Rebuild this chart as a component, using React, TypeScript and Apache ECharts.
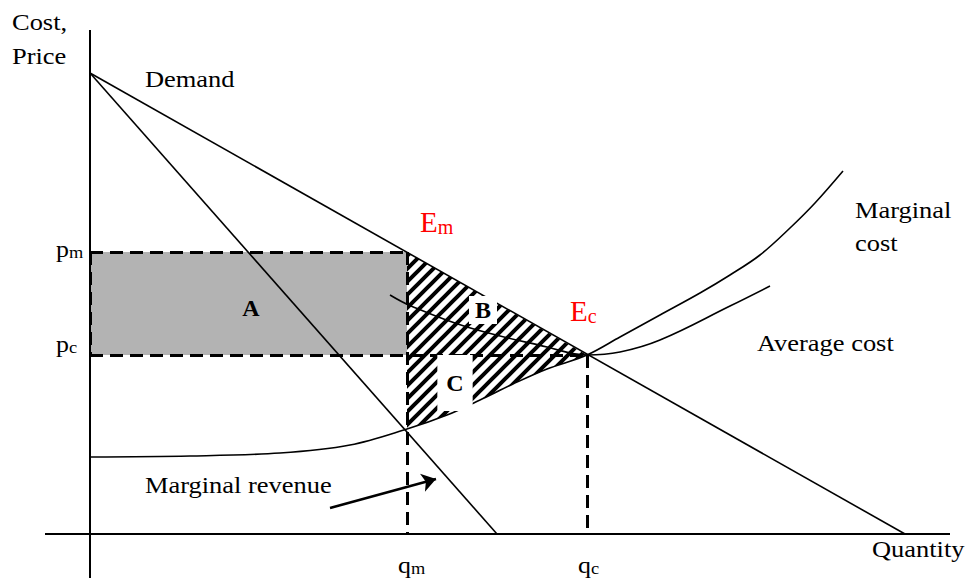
import React, { useEffect, useRef } from 'react';
import * as echarts from 'echarts';

// ---- Data (origin = where the two axes cross) ----
const demandX = [0, 815];
const demandY = [461, 0];
const mrX = [0, 407];
const mrY = [461, 0];
const mcX = [0, 100, 190, 260, 317, 357, 390, 423, 457, 497, 530, 570, 610, 640, 670, 700, 725, 753];
const mcY = [77, 78, 81, 89, 105, 119, 134, 150, 165, 179, 197, 219, 241, 259, 279, 306, 331, 363];
const acX = [300, 321, 377, 457, 497, 530, 570, 640, 680];
const acY = [239, 228, 207, 187, 179, 182, 194, 228, 248];
const pm = 282;
const pc = 179;
const qm = 317;
const qc = 497;
const xAxisSpan = [-45, 860];
const yAxisSpan = [-44, 504];
const arrowFrom = [240, 26];
const arrowTo = [346, 55];

// ---- Annotation texts ----
const labelTexts = [
  'Cost,\nPrice', 'Demand', 'Marginal\ncost', 'Average cost', 'Quantity', 'Marginal revenue',
  '{a|p}{b|m}', '{a|p}{b|c}', '{a|q}{b|m}', '{a|q}{b|c}', '{a|E}{b|m}', '{a|E}{b|c}', 'A', 'B', 'C',
];
const labelKinds = ['reg', 'reg', 'reg', 'reg', 'reg', 'reg', 'sub', 'sub', 'sub', 'sub', 'eq', 'eq', 'bold', 'boxB', 'boxC'];
// layout positions of the annotations (axis units)
const labelPos: number[][] = [
  [-78, 494.75], [55, 455], [765, 307.5], [667, 191], [782, -15], [55, 49],
  [-34, 285], [-34, 190], [308, -31], [488, -31], [330, 312], [480, 223],
  [161, 226], [393, 224], [365, 151],
];

const SERIF = "'Liberation Serif', 'Times New Roman', serif";

export default function App() {
  const ref = useRef<HTMLDivElement>(null);
  useEffect(() => {
    document.body.style.margin = '0';
    if (!ref.current) return;
    const chart = echarts.init(ref.current, undefined, { renderer: 'svg' });

    const s = 13;
    const hatch = document.createElement('canvas');
    hatch.width = s;
    hatch.height = s;
    const ctx = hatch.getContext('2d')!;
    ctx.fillStyle = '#ffffff';
    ctx.fillRect(0, 0, s, s);
    ctx.strokeStyle = '#000000';
    ctx.lineWidth = 4;
    ctx.beginPath();
    ctx.moveTo(0, s); ctx.lineTo(s, 0);
    ctx.moveTo(-s / 2, s / 2); ctx.lineTo(s / 2, -s / 2);
    ctx.moveTo(s / 2, s * 1.5); ctx.lineTo(s * 1.5, s / 2);
    ctx.stroke();

    const line = (name: string, xs: number[], ys: number[], smooth: number | boolean, width: number, z = 4) => ({
      type: 'line', name, data: xs.map((x, i) => [x, ys[i]]), smooth, symbol: 'none', silent: true, clip: false,
      lineStyle: { color: '#000', width }, z,
    });

    const mcPts = mcX.map((x, i) => [x, mcY[i]]);
    const hatchPts = [[qm, pm], ...mcPts.filter((p) => p[0] >= qm && p[0] <= qc).reverse()];

    const textStyle = (kind: string, text: string): any => {
      if (kind === 'reg') return { sx: 1.15, style: { text, fontFamily: SERIF, fontSize: 23, lineHeight: 33.5, fill: '#000', align: 'left', verticalAlign: 'middle' } };
      if (kind === 'sub') return { sx: 1.08, style: { text, align: 'left', verticalAlign: 'middle', rich: {
        a: { fontFamily: SERIF, fontSize: 24, lineHeight: 24, fill: '#000' },
        b: { fontFamily: SERIF, fontSize: 17, lineHeight: 12, verticalAlign: 'bottom', fill: '#000' } } } };
      if (kind === 'eq') return { sx: 1, style: { text, align: 'left', verticalAlign: 'middle', rich: {
        a: { fontFamily: SERIF, fontSize: 29, lineHeight: 29, fill: '#ff0000' },
        b: { fontFamily: SERIF, fontSize: 20, lineHeight: 16, verticalAlign: 'bottom', fill: '#ff0000' } } } };
      const base = { text, fontFamily: SERIF, fontSize: 24, fontWeight: 'bold', fill: '#000', align: 'center', verticalAlign: 'middle' };
      if (kind === 'boxB') return { sx: 1, style: { ...base, backgroundColor: '#fff', padding: [2, 6] } };
      if (kind === 'boxC') return { sx: 1, style: { ...base, backgroundColor: '#fff', padding: [16, 9] } };
      return { sx: 1, style: base };
    };

    const option: any = {
      animation: false,
      grid: { left: 0, right: 0, top: 0, bottom: 0 },
      xAxis: { type: 'value', min: -90, max: 875, show: false },
      yAxis: { type: 'value', min: -44, max: 534, show: false },
      series: [
        {
          type: 'custom', name: 'A', silent: true, z: 1,
          data: [[0, pc, qm, pm]],
          encode: { x: [0, 2], y: [1, 3] },
          renderItem: (_p: any, api: any) => {
            const p1 = api.coord([api.value(0), api.value(3)]);
            const p2 = api.coord([api.value(2), api.value(1)]);
            return { type: 'rect', shape: { x: p1[0], y: p1[1], width: p2[0] - p1[0], height: p2[1] - p1[1] }, style: { fill: '#b3b3b3' } };
          },
        },
        {
          type: 'custom', name: 'hatch', silent: true, z: 2,
          data: hatchPts,
          renderItem: (p: any, api: any) => {
            if (p.dataIndex !== 0) return null;
            const pts = hatchPts.map((q) => api.coord(q));
            return { type: 'polygon', shape: { points: pts }, style: { fill: { image: hatch, repeat: 'repeat', imageWidth: s, imageHeight: s } } };
          },
        },
        {
          type: 'lines', coordinateSystem: 'cartesian2d', name: 'dashed', silent: true, z: 3,
          lineStyle: { color: '#000', width: 3, type: [13, 7], opacity: 1 },
          data: [
            { coords: [[0, pm], [qm, pm]] },
            { coords: [[0, pc], [qc, pc]] },
            { coords: [[0, pm], [0, pc]] },
            { coords: [[qm, pm], [qm, 0]] },
            { coords: [[qc, pc], [qc, 0]] },
          ],
        },
        line('Demand', demandX, demandY, false, 1.6),
        line('Marginal revenue', mrX, mrY, false, 1.6),
        line('Marginal cost', mcX, mcY, 0.35, 1.6),
        line('Average cost', acX, acY, 0.4, 1.6),
        line('x axis', xAxisSpan, [0, 0], false, 2, 5),
        line('y axis', [0, 0], yAxisSpan, false, 2, 5),
        {
          type: 'lines', coordinateSystem: 'cartesian2d', name: 'arrow', silent: true, z: 5,
          symbol: ['none', 'arrow'], symbolSize: [0, 14],
          lineStyle: { color: '#000', width: 2.5, opacity: 1 },
          itemStyle: { color: '#000' },
          data: [{ coords: [arrowFrom, arrowTo] }],
        },
        {
          type: 'custom', name: 'labels', silent: true, z: 10,
          data: labelPos,
          renderItem: (p: any, api: any) => {
            const i = p.dataIndex;
            const pt = api.coord([api.value(0), api.value(1)]);
            const t = textStyle(labelKinds[i], labelTexts[i]);
            return { type: 'text', x: pt[0], y: pt[1], scaleX: t.sx, style: t.style };
          },
        },
      ],
    };
    chart.setOption(option);
    return () => chart.dispose();
  }, []);
  return <div ref={ref} style={{ width: 965, height: 578 }} />;
}
